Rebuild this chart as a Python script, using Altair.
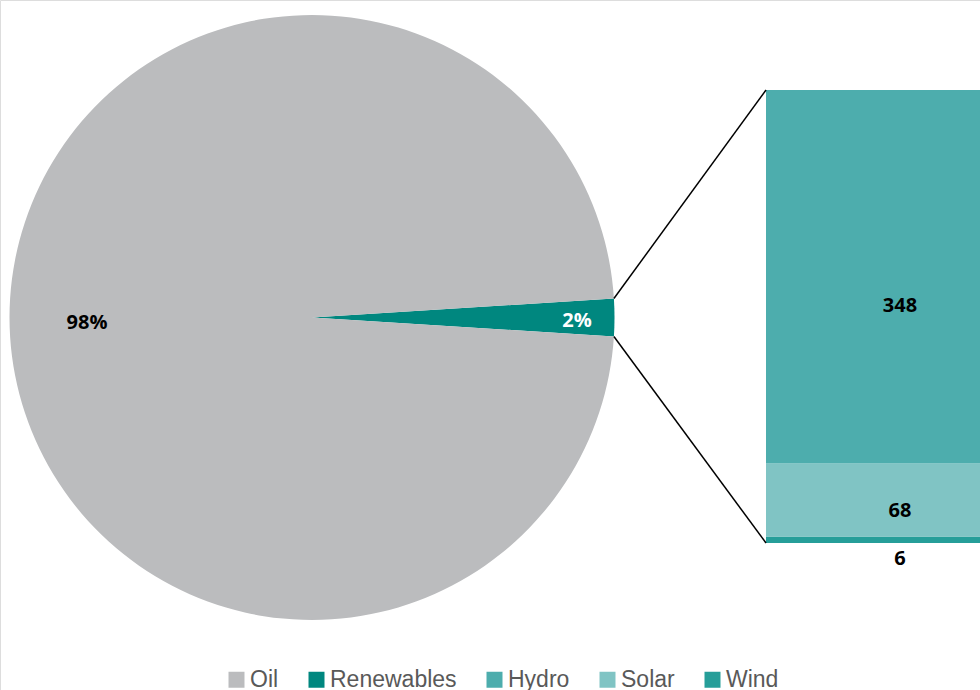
import math
import altair as alt
import pandas as pd

# ---- data ----
pie_cats = ["Renewables", "Oil"]
pie_vals = [2, 98]
pie_labels = ["2%", "98%"]

bar_cats = ["Hydro", "Solar", "Wind"]
bar_vals = [348, 68, 6]

legend_order = ["Oil", "Renewables", "Hydro", "Solar", "Wind"]
legend_colors = ["#BBBCBE", "#00877F", "#4DADAD", "#80C4C4", "#269E99"]

# ---- layout ----
W, H = 980, 690
CX, CY, R = 312, 317.5, 302.5
BAR_X0, BAR_X1 = 766, 1034
BAR_TOP, BAR_BOT = 90, 543

total_pie = sum(pie_vals)
half_span = math.pi * pie_vals[0] / total_pie  # half of renewables wedge angle
start = math.pi / 2 - half_span

pie_df = pd.DataFrame({"cat": pie_cats, "val": pie_vals, "label": pie_labels,
                       "order": [0, 1]})

# stacked bar: Wind at bottom, then Solar, then Hydro
rows = []
acc = 0
for c, v in zip(reversed(bar_cats), reversed(bar_vals)):
    rows.append({"cat": c, "lo": acc, "hi": acc + v, "val": v, "mid": acc + v / 2})
    acc += v
bar_df = pd.DataFrame(rows)
bar_total = acc

color = alt.Color("cat:N", scale=alt.Scale(domain=legend_order, range=legend_colors),
                  legend=alt.Legend(title=None, orient="none", direction="horizontal",
                                    legendX=225, legendY=668, symbolType="square",
                                    symbolSize=256, symbolStrokeWidth=0,
                                    labelFontSize=23, labelFont="Arial",
                                    labelColor="#595959", columnPadding=26,
                                    labelOffset=2, symbolOpacity=1))

theta = alt.Theta("val:Q", stack=True,
                  scale=alt.Scale(domain=[0, total_pie], range=[start, start + 2 * math.pi]))

LBL_FONT = "Open Sans"
LBL_SIZE = 20

pie = alt.Chart(pie_df).mark_arc(outerRadius=R, stroke=None).encode(
    theta=theta, color=color, order=alt.Order("order:Q"),
    x=alt.value(CX), y=alt.value(CY))

pie_text_oil = alt.Chart(pie_df).mark_text(
    radius=225, font=LBL_FONT, fontWeight="bold", fontSize=LBL_SIZE, color="black", dy=5
).encode(theta=theta, text="label:N", order=alt.Order("order:Q"),
         x=alt.value(CX), y=alt.value(CY),
         opacity=alt.condition(alt.datum.cat == "Oil", alt.value(1), alt.value(0)))

pie_text_ren = alt.Chart(pie_df).mark_text(
    radius=265, font=LBL_FONT, fontWeight="bold", fontSize=LBL_SIZE, color="white", dy=3
).encode(theta=theta, text="label:N", order=alt.Order("order:Q"),
         x=alt.value(CX), y=alt.value(CY),
         opacity=alt.condition(alt.datum.cat == "Renewables", alt.value(1), alt.value(0)))

yscale = alt.Scale(domain=[0, bar_total], range=[BAR_BOT, BAR_TOP])

bars = alt.Chart(bar_df).mark_bar(stroke=None).encode(
    x=alt.value(BAR_X0), x2=alt.value(BAR_X1),
    y=alt.Y("lo:Q", scale=yscale, axis=None), y2="hi:Q",
    color=color)

XMID = (BAR_X0 + BAR_X1) / 2
hydro_text = alt.Chart(bar_df[bar_df["cat"] == "Hydro"]).mark_text(
    font=LBL_FONT, fontWeight="bold", fontSize=LBL_SIZE, color="black", dy=29
).encode(x=alt.value(XMID), y=alt.Y("mid:Q", scale=yscale, axis=None), text="val:Q")

solar_text = alt.Chart(bar_df[bar_df["cat"] == "Solar"]).mark_text(
    font=LBL_FONT, fontWeight="bold", fontSize=LBL_SIZE, color="black", dy=11
).encode(x=alt.value(XMID), y=alt.Y("mid:Q", scale=yscale, axis=None), text="val:Q")

wind_text = alt.Chart(bar_df[bar_df["cat"] == "Wind"]).mark_text(
    font=LBL_FONT, fontWeight="bold", fontSize=LBL_SIZE, color="black", baseline="top", dy=6
).encode(x=alt.value(XMID), y=alt.Y("lo:Q", scale=yscale, axis=None), text="val:Q")

# connectors: from the pie edge of the renewables wedge to bar corners
ex = CX + R * math.cos(half_span)
ey_off = R * math.sin(half_span)
conn_lines = []
for v, py in [(bar_total, CY - ey_off), (0, CY + ey_off)]:
    conn_lines.append(alt.Chart(pd.DataFrame({"v": [v]})).mark_rule(color="black", strokeWidth=1.5).encode(
        x=alt.value(BAR_X0), x2=alt.value(ex),
        y=alt.Y("v:Q", scale=yscale, axis=None), y2=alt.value(py)))

chart = alt.layer(pie, pie_text_oil, pie_text_ren, bars, *conn_lines,
                  hydro_text, solar_text, wind_text).properties(
    width=W, height=H, padding=0, autosize=alt.AutoSizeParams(type="none")
).configure_view(stroke=None).configure(background="white")

chart.save("out.html", embed_options={"renderer": "svg", "actions": False})
